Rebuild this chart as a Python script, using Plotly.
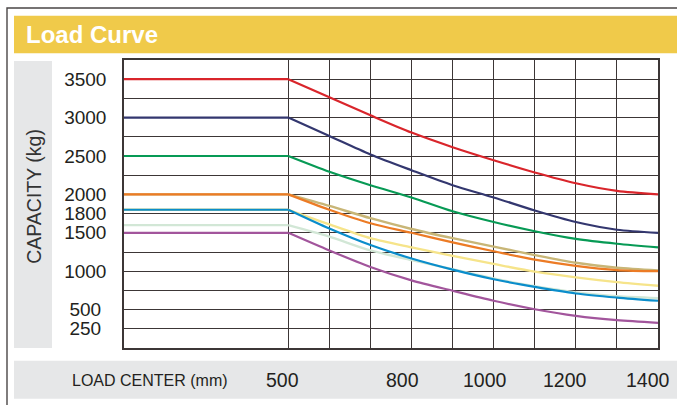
import plotly.graph_objects as go

# ---- data ----
load_center = [100, 500, 600, 700, 800, 900, 1000, 1100, 1200, 1300, 1400]
cap_3500 = [3500, 3500, 3265, 3030, 2805, 2615, 2445, 2285, 2145, 2045, 2000]
cap_3000 = [3000, 3000, 2760, 2520, 2315, 2120, 1960, 1790, 1640, 1540, 1500]
cap_2500 = [2500, 2500, 2295, 2120, 1960, 1780, 1640, 1520, 1420, 1357, 1310]
cap_2000a = [2000, 2000, 1800, 1625, 1500, 1375, 1260, 1150, 1070, 1015, 1000]
cap_2000b = [2000, 2000, 1850, 1690, 1550, 1430, 1320, 1210, 1110, 1045, 1010]
cap_1800a = [1800, 1800, 1555, 1340, 1165, 1020, 895, 795, 710, 657, 615]
cap_1800b = [1800, 1800, 1610, 1430, 1310, 1200, 1095, 995, 920, 858, 810]
cap_1600 = [1600, 1600, 1450, 1270, 1145, 1025, 905, 805, 725, 675, 650]
cap_1500 = [1500, 1500, 1270, 1055, 880, 745, 615, 505, 418, 362, 328]

y_grid = list(range(0, 3751, 250))
y_labels = {3500: "3500", 3000: "3000", 2500: "2500", 2000: "2000", 1750: "1800",
            1500: "1500", 1000: "1000", 500: "500\u00a0", 250: "250\u00a0"}
x_grid = list(range(500, 1401, 100))
x_tick_vals = [500, 800, 1000, 1200, 1400]
x_tick_text = ["500", "800", "1000", "1200", "1400"]

# ---- styles ----
series = [
    (cap_1600, "#D2E7D6", 2.4, "1600 kg"),
    (cap_1800b, "#F6E48A", 2.4, "1800 kg (b)"),
    (cap_2000b, "#C8B677", 2.4, "2000 kg (b)"),
    (cap_1500, "#A2559C", 2.2, "1500 kg"),
    (cap_1800a, "#0A8DCB", 2.2, "1800 kg"),
    (cap_2000a, "#EC7B25", 2.2, "2000 kg"),
    (cap_2500, "#079A55", 2.2, "2500 kg"),
    (cap_3000, "#33376F", 2.2, "3000 kg"),
    (cap_3500, "#D9252B", 2.2, "3500 kg"),
]
x_label_shift = [-6, -9, -9, -11, -10]
grid_color = "#3c3636"
text_color = "#231F20"
base_font = "Liberation Sans, Arial, sans-serif"

fig = go.Figure()
for vals, color, w, name in series:
    # flat part up to the rated load centre
    fig.add_trace(go.Scatter(x=load_center[:2], y=vals[:2], mode="lines", name=name,
                             line=dict(color=color, width=w), hoverinfo="skip"))
    # derating curve beyond it
    fig.add_trace(go.Scatter(x=load_center[1:], y=vals[1:], mode="lines", name=name,
                             line=dict(color=color, width=w, shape="spline", smoothing=0.8),
                             hoverinfo="skip"))

W, H = 677, 405
L, R, T, B = 124, 19, 60, 57
pw, ph = W - L - R, H - T - B


def px(xp):
    return (xp - L) / pw


def py(yp):
    return (H - B - yp) / ph


shapes = [
    dict(type="rect", xref="paper", yref="paper", x0=px(14), x1=px(680), y0=py(53.3), y1=py(15.7),
         fillcolor="#F0CA4A", line=dict(width=0), layer="below"),
    dict(type="rect", xref="paper", yref="paper", x0=px(14), x1=px(52), y0=py(348), y1=py(61),
         fillcolor="#E6E7E8", line=dict(width=0), layer="below"),
    dict(type="rect", xref="paper", yref="paper", x0=px(14), x1=px(680), y0=py(398.7), y1=py(360.7),
         fillcolor="#E6E7E8", line=dict(width=0), layer="below"),
    dict(type="path", xref="paper", yref="paper",
         path=f"M {px(7)},{py(420)} L {px(7)},{py(8)} L {px(690)},{py(8)}",
         line=dict(color="#4a4646", width=1.4)),
]

annotations = [
    dict(text="<b>Load Curve</b>", xref="paper", yref="paper", x=px(24), y=py(34.5),
         xanchor="left", yanchor="middle", showarrow=False,
         font=dict(family=base_font, size=24, color="white")),
    dict(text="CAPACITY (kg)", xref="paper", yref="paper", x=px(33.8), y=py(196),
         xanchor="center", yanchor="middle", showarrow=False, textangle=-90,
         font=dict(family=base_font, size=19.5, color="#333333")),
    dict(text="LOAD CENTER (mm)", xref="paper", yref="paper", x=px(150.2), y=py(380),
         xanchor="center", yanchor="middle", showarrow=False,
         font=dict(family=base_font, size=16, color=text_color)),
]
for v, t, s in zip(x_tick_vals, x_tick_text, x_label_shift):
    annotations.append(dict(text=t, xref="x", yref="paper", x=v, y=py(380), xshift=s,
                            xanchor="center", yanchor="middle", showarrow=False,
                            font=dict(family=base_font, size=19.5, color=text_color)))

fig.update_layout(
    width=W, height=H,
    margin=dict(l=L, r=R, t=T, b=B, pad=0),
    paper_bgcolor="white", plot_bgcolor="white",
    showlegend=False,
    shapes=shapes, annotations=annotations,
    xaxis=dict(range=[100, 1400], tickvals=x_grid, showticklabels=False, ticks="",
               showgrid=True, gridcolor=grid_color, gridwidth=1.3, zeroline=False,
               showline=True, mirror=True, linecolor=grid_color, linewidth=1.5, fixedrange=True),
    yaxis=dict(range=[0, 3750], tickvals=y_grid, ticktext=[y_labels.get(v, "") for v in y_grid],
               ticks="outside", ticklen=12, tickcolor="rgba(0,0,0,0)",
               tickfont=dict(family=base_font, size=19, color=text_color),
               showgrid=True, gridcolor=grid_color, gridwidth=1.3, zeroline=False,
               showline=True, mirror=True, linecolor=grid_color, linewidth=1.5, fixedrange=True),
)

fig.write_html("out.html", config={"displayModeBar": False},
               post_script="document.body.style.margin='0px';document.body.style.overflow='hidden';")
